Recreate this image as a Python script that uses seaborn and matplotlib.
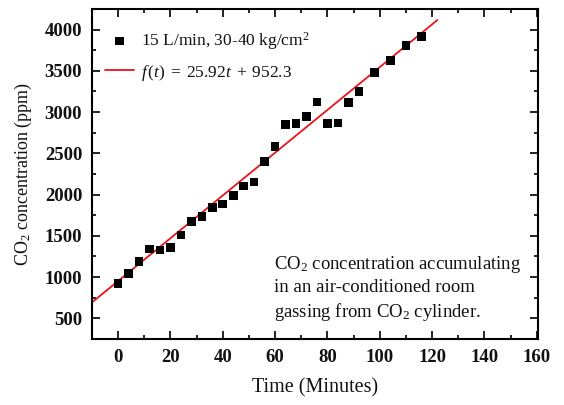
import numpy as np
import pandas as pd
import matplotlib
matplotlib.use("Agg")
import matplotlib.pyplot as plt
import matplotlib.ticker as ticker
import seaborn as sns

# data
time_min = [0, 4, 8, 12, 16, 20, 24, 28, 32, 36, 40, 44, 48, 52, 56, 60, 64,
            68, 72, 76, 80, 84, 88, 92, 98, 104, 110, 116]
co2_ppm = [922, 1042, 1190, 1343, 1331, 1359, 1508, 1677, 1733, 1841, 1886,
           1990, 2102, 2151, 2400, 2584, 2846, 2861, 2949, 3123, 2858, 2870,
           3114, 3251, 3476, 3624, 3805, 3913]
fit_slope = 25.92
fit_intercept = 952.3
fit_range = [-10, 122]

sns.set_style("ticks")
plt.rcParams['font.family'] = ['Liberation Serif', 'DejaVu Serif']
plt.rcParams['mathtext.fontset'] = 'custom'
plt.rcParams['mathtext.rm'] = 'Liberation Serif'
plt.rcParams['mathtext.it'] = 'Liberation Serif:italic'
plt.rcParams['mathtext.bf'] = 'Liberation Serif:bold'
for k in ['text.color', 'axes.labelcolor', 'xtick.color', 'ytick.color']:
    plt.rcParams[k] = '#111111'

df = pd.DataFrame({"t": time_min, "co2": co2_ppm})
fit_t = np.linspace(fit_range[0], fit_range[1], 50)
fit_df = pd.DataFrame({"t": fit_t, "co2": fit_slope * fit_t + fit_intercept})

fig = plt.figure(figsize=(5.64, 4.05), dpi=100)
ax = fig.add_axes([0.163, 0.163, 0.791, 0.815])

sns.scatterplot(data=df, x="t", y="co2", marker="s", s=38, color="black",
                edgecolor="none", label="15 L/min, 30-40 kg/cm$^2$", ax=ax, zorder=3)
sns.lineplot(data=fit_df, x="t", y="co2", color="#e8141b", linewidth=1.3,
             label=r"$f\,(t)\;=\;25.92t\;+\;952.3$", ax=ax, zorder=2)

ax.set_xlim(-10, 160.5)
ax.set_ylim(250, 4250)
ax.xaxis.set_major_locator(ticker.MultipleLocator(20))
ax.xaxis.set_minor_locator(ticker.MultipleLocator(10))
ax.yaxis.set_minor_locator(ticker.MultipleLocator(250))
ax.set_yticks([500, 1000, 1500, 2000, 2500, 3000, 3500, 4000])
ax.tick_params(which='both', direction='in', top=True, right=True, width=1.3)
ax.tick_params(which='major', length=6, labelsize=13.5, pad=7)
ax.tick_params(which='minor', length=3)
for lab in ax.get_xticklabels() + ax.get_yticklabels():
    lab.set_fontweight('bold')
for sp in ax.spines.values():
    sp.set_linewidth(1.5)
    sp.set_color('black')

ax.set_xlabel("Time (Minutes)", fontsize=14.5, labelpad=9)
ax.set_ylabel("CO$_2$ concentration (ppm)", fontsize=13, labelpad=8)

ax.legend(loc="upper left", bbox_to_anchor=(0.0, 0.976), frameon=False,
          fontsize=12.5, handlelength=1.7, labelspacing=0.62,
          borderaxespad=0.35, handletextpad=0.35)

ax.text(0.408, 0.258, "CO$_2$ concentration accumulating\nin an air-conditioned room\n"
        "gassing from CO$_2$ cylinder.", transform=ax.transAxes, fontsize=13.5,
        va='top', ha='left', linespacing=1.3)

fig.savefig("out.png", dpi=100)
